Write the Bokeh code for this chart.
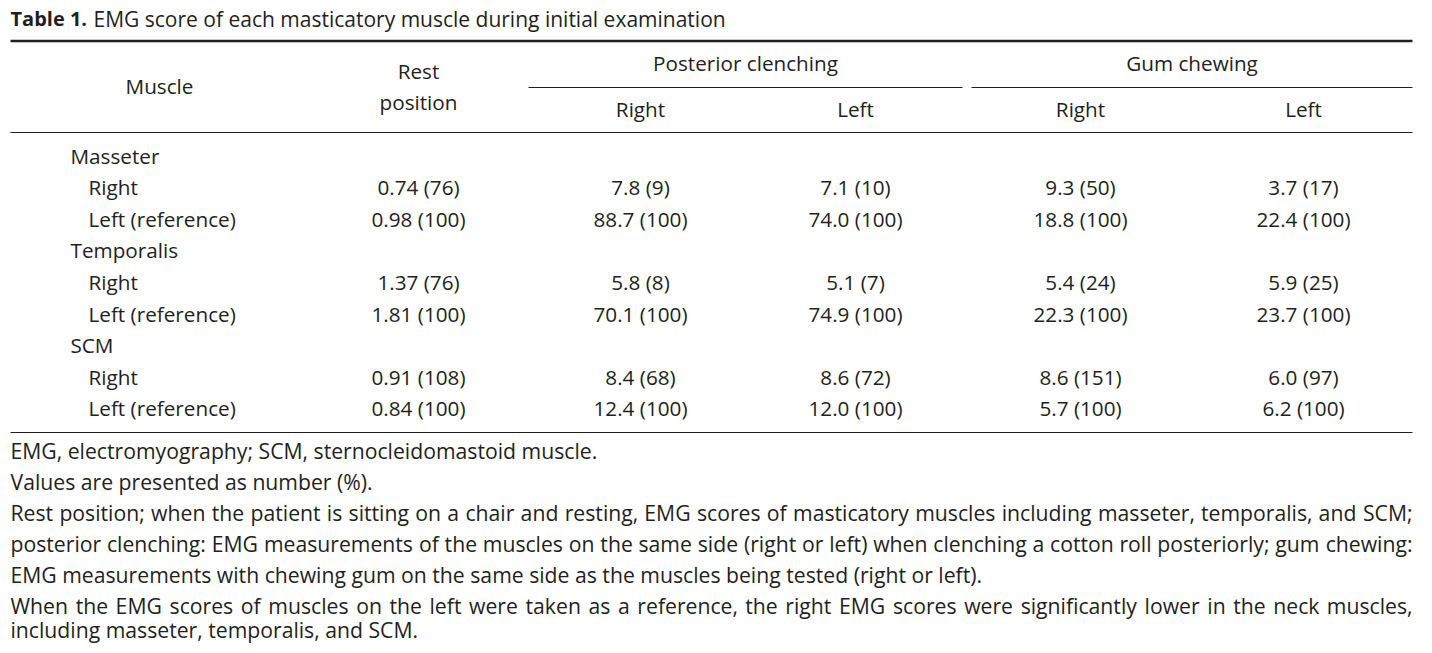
from bokeh.plotting import figure
from bokeh.models import Range1d
from bokeh.core.properties import value
from bokeh.embed import file_html
from bokeh.resources import INLINE

# ---------------- data ----------------
title_bold = "Table 1."
title_rest = "EMG score of each masticatory muscle during initial examination"

muscles = ["Masseter", "Temporalis", "SCM"]
sides = ["Right", "Left (reference)"]

header_muscle = "Muscle"
header_rest = ["Rest", "position"]
groups = ["Posterior clenching", "Gum chewing"]
subheads = ["Right", "Left", "Right", "Left"]

rest_val = [0.74, 0.98, 1.37, 1.81, 0.91, 0.84]
rest_pct = [76, 100, 76, 100, 108, 100]
pc_right_val = [7.8, 88.7, 5.8, 70.1, 8.4, 12.4]
pc_right_pct = [9, 100, 8, 100, 68, 100]
pc_left_val = [7.1, 74.0, 5.1, 74.9, 8.6, 12.0]
pc_left_pct = [10, 100, 7, 100, 72, 100]
gc_right_val = [9.3, 18.8, 5.4, 22.3, 8.6, 5.7]
gc_right_pct = [50, 100, 24, 100, 151, 100]
gc_left_val = [3.7, 22.4, 5.9, 23.7, 6.0, 6.2]
gc_left_pct = [17, 100, 25, 100, 97, 100]

footnotes = [
    "EMG, electromyography; SCM, sternocleidomastoid muscle.",
    "Values are presented as number (%).",
    "Rest position; when the patient is sitting on a chair and resting, EMG scores of masticatory muscles including masseter, temporalis, and SCM;",
    "posterior clenching: EMG measurements of the muscles on the same side (right or left) when clenching a cotton roll posteriorly; gum chewing:",
    "EMG measurements with chewing gum on the same side as the muscles being tested (right or left).",
    "When the EMG scores of muscles on the left were taken as a reference, the right EMG scores were significantly lower in the neck muscles,",
    "including masseter, temporalis, and SCM.",
]
justified = [False, False, True, True, False, True, False]

# ---------------- layout ----------------
W, H = 1424, 645
FONT = "Open Sans"
FS = 20.7
FOOT_FS = 21.2
COLOR = "#231f20"
LEFT, RIGHT = 10, 1412
col_x = [418, 640, 855, 1080, 1303]
group_span = [(528, 962), (971, 1412)]
row0, row_step = 155, 31.6
foot0, foot_step = 450, 31.0
foot_y = [foot0 + foot_step * i for i in range(6)] + [629]

# approximate Open Sans advance widths (em) for justification
_w = {' ': .26, '(': .296, ')': .296, ',': .245, '.': .266, ';': .266, ':': .266, '%': .846,
      'A': .633, 'C': .631, 'E': .556, 'G': .728, 'M': .903, 'R': .618, 'S': .549, 'W': .925,
      'a': .556, 'b': .613, 'c': .476, 'd': .613, 'e': .561, 'f': .339, 'g': .548, 'h': .614,
      'i': .253, 'j': .253, 'k': .525, 'l': .253, 'm': .930, 'n': .614, 'o': .601, 'p': .613,
      'q': .613, 'r': .408, 's': .477, 't': .353, 'u': .614, 'v': .500, 'w': .777, 'x': .524,
      'y': .500, 'z': .468}


def est_width(s, size):
    return sum(_w.get(ch, .57) for ch in s) * size


p = figure(width=W, height=H, output_backend="svg", toolbar_location=None,
           x_range=Range1d(0, W), y_range=Range1d(H, 0),
           min_border=0, background_fill_color="white", border_fill_color="white")
p.axis.visible = False
p.grid.visible = False
p.outline_line_color = None


def txt(x, y, s, align="left", size=FS, style="normal"):
    p.text(x=[x], y=[y], text=[s], text_align=align, text_baseline="middle",
           text_font=value(FONT), text_font_size=f"{size}px", text_color=COLOR,
           text_font_style=style)


# title
txt(LEFT, 18, title_bold, size=20, style="bold")
txt(93, 18, title_rest, size=21)

# rules
p.segment(x0=[LEFT], y0=[40.5], x1=[RIGHT], y1=[40.5], line_color=COLOR, line_width=2.6)
p.segment(x0=[g[0] for g in group_span], y0=[87, 87], x1=[g[1] for g in group_span], y1=[87, 87],
          line_color=COLOR, line_width=1.2)
p.segment(x0=[LEFT, LEFT], y0=[132, 432], x1=[RIGHT, RIGHT], y1=[132, 432],
          line_color=COLOR, line_width=1.2)

# headers
txt(159, 85, header_muscle, align="center")
txt(col_x[0], 70, header_rest[0], align="center")
txt(col_x[0], 101, header_rest[1], align="center")
for g, (a, b) in zip(groups, group_span):
    txt((a + b) / 2, 62, g, align="center")
for s, x in zip(subheads, col_x[1:]):
    txt(x, 108.5, s, align="center")

# body
cols = [
    (rest_val, rest_pct, "{:.2f}"),
    (pc_right_val, pc_right_pct, "{:.1f}"),
    (pc_left_val, pc_left_pct, "{:.1f}"),
    (gc_right_val, gc_right_pct, "{:.1f}"),
    (gc_left_val, gc_left_pct, "{:.1f}"),
]
r = 0
k = 0
for m in muscles:
    txt(70, row0 + r * row_step, m)
    r += 1
    for s in sides:
        y = row0 + r * row_step
        txt(88, y, s)
        for (vals, pcts, fmt), x in zip(cols, col_x):
            txt(x, y, f"{fmt.format(vals[k])} ({pcts[k]})", align="center")
        k += 1
        r += 1

# footnotes
for line, just, y in zip(footnotes, justified, foot_y):
    if not just:
        txt(LEFT, y, line, size=FOOT_FS)
        continue
    words = line.split(" ")
    ww = [est_width(wd, FOOT_FS) for wd in words]
    gap = (RIGHT - LEFT - sum(ww)) / (len(words) - 1)
    x = LEFT
    for j, (wd, wv) in enumerate(zip(words, ww)):
        if j == len(words) - 1:
            txt(RIGHT, y, wd, align="right", size=FOOT_FS)
        else:
            txt(x, y, wd, size=FOOT_FS)
        x += wv + gap

open("out.html", "w").write(file_html(p, INLINE))
